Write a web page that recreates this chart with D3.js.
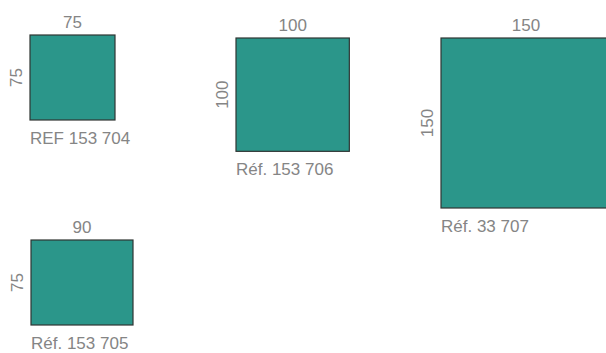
<!DOCTYPE html>
<html lang="en">
<head>
<meta charset="utf-8"/>
<title>Tile sizes</title>
<script src="https://cdn.jsdelivr.net/npm/d3@7"></script>
<style>
  html, body { margin: 0; padding: 0; background: #fff; overflow: hidden; }
  text { font-family: "Liberation Sans", Arial, sans-serif; font-weight: 300; fill: #858585; }
</style>
</head>
<body>
<svg id="chart" width="606" height="353"></svg>
<script>
// tile data
const refs = ["REF 153 704", "Réf. 153 706", "Réf. 33 707", "Réf. 153 705"];
const widths = [75, 100, 150, 90];
const heights = [75, 100, 150, 75];

// slot for each tile (layout only)
const slots = [[30, 35], [236, 38], [441, 38], [31, 240]];

const svg = d3.select('#chart');
const size = d3.scaleLinear().domain([0, 150]).range([0, 170]);

const tiles = refs.map((r, i) => ({ ref: r, w: widths[i], h: heights[i], x: slots[i][0], y: slots[i][1] }));

const g = svg.selectAll('g.tile')
  .data(tiles)
  .enter()
  .append('g')
  .attr('class', 'tile')
  .attr('transform', d => 'translate(' + d.x + ',' + d.y + ')');

g.append('rect')
  .attr('x', 0)
  .attr('y', 0)
  .attr('width', d => size(d.w))
  .attr('height', d => size(d.h))
  .attr('fill', '#2b968a')
  .attr('stroke', '#2f3533')
  .attr('stroke-width', 1.2);

// width on top
g.append('text')
  .attr('x', d => size(d.w) / 2)
  .attr('y', -7)
  .attr('text-anchor', 'middle')
  .style('font-size', '17px')
  .text(d => d.w);

// height on the left, turned
g.append('text')
  .attr('transform', d => 'translate(-8,' + size(d.h) / 2 + ') rotate(-90)')
  .attr('text-anchor', 'middle')
  .style('font-size', '17px')
  .text(d => d.h);

// reference under the tile
g.append('text')
  .attr('x', 0)
  .attr('y', d => size(d.h) + 24)
  .style('font-size', '17px')
  .text(d => d.ref);
</script>
</body>
</html>
